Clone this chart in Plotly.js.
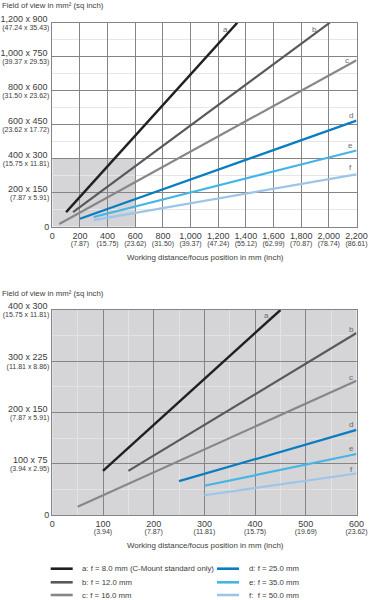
<!DOCTYPE html>
<html>
<head>
<meta charset="utf-8">
<script src="https://cdn.plot.ly/plotly-3.0.1.min.js"></script>
<style>html,body{margin:0;padding:0;background:#fff;}#chart{width:369px;height:600px;}</style>
</head>
<body>
<div id="chart"></div>
<script>
// ---- data ----
const seriesKeys = ['a', 'b', 'c', 'd', 'e', 'f'];
const seriesNames = [
  'a: f = 8.0 mm (C-Mount standard only)',
  'b: f = 12.0 mm',
  'c: f = 16.0 mm',
  'd: f = 25.0 mm',
  'e: f = 35.0 mm',
  'f:  f = 50.0 mm'
];
// top chart (full range)
const topX = [[100, 1338], [150, 2007], [50, 2200], [200, 2200], [300, 2200], [300, 2200]];
const topY = [[86, 1200], [86, 1200], [16, 979], [47, 624], [57, 448], [38.5, 308]];
// bottom chart (close range)
const botX = [[100, 450], [150, 600], [50, 600], [250, 600], [300, 600], [300, 600]];
const botY = [[86, 400], [86, 355], [16, 262], [66, 166], [57, 119], [38.5, 81]];

const topXTicks = [0, 200, 400, 600, 800, 1000, 1200, 1400, 1600, 1800, 2000, 2200];
const topXMain = ['0', '200', '400', '600', '800', '1,000', '1,200', '1,400', '1,600', '1,800', '2,000', '2,200'];
const topXSub = ['', '(7.87)', '(15.75)', '(23.62)', '(31.50)', '(39.37)', '(47.24)', '(55.12)', '(62.99)', '(70.87)', '(78.74)', '(86.61)'];
const topYTicks = [200, 400, 600, 800, 1000, 1200];
const topYMain = ['200 x 150', '400 x 300', '600 x 450', '800 x 600', '1,000 x 750', '1,200 x 900'];
const topYSub = ['(7.87 x 5.91)', '(15.75 x 11.81)', '(23.62 x 17.72)', '(31.50 x 23.62)', '(39.37 x 29.53)', '(47.24 x 35.43)'];

const botXTicks = [0, 100, 200, 300, 400, 500, 600];
const botXMain = ['0', '100', '200', '300', '400', '500', '600'];
const botXSub = ['', '(3.94)', '(7.87)', '(11.81)', '(15.75)', '(19.69)', '(23.62)'];
const botYTicks = [100, 200, 300, 400];
const botYMain = ['100 x 75', '200 x 150', '300 x 225', '400 x 300'];
const botYSub = ['(3.94 x 2.95)', '(7.87 x 5.91)', '(11.81 x 8.86)', '(15.75 x 11.81)'];

const topXRange = [0, 2200];
const topYRange = [0, 1200];
const botXRange = [0, 600];
const botYRange = [0, 400];

const yTitle = 'Field of view in mm² (sq inch)';
const xTitle = 'Working distance/focus position in mm (inch)';

// ---- styles ----
const colors = ['#231f20', '#59595b', '#87878a', '#0a7cc1', '#45b5e5', '#9dc5ea'];
const widths = [2.4, 2.2, 2.2, 2.2, 2.2, 2.2];
const FONT = 'Liberation Sans, Arial, sans-serif';
const TXT = '#3c3c3c';
const GRID = '#858585';
const MINOR_TOP = '#e6e6e6';
const MINOR_BOT = '#e3e3e5';
const SHADE = '#d5d5d7';

// label offsets (pixels) from line end
const topLabelShift = [[-12, 6.6], [-15.6, 6.6], [-10, 0.5], [-6, -5.3], [-5.7, -5], [-5.7, -6.6]];
const botLabelShift = [[-14.3, 5.7], [-5.3, -4], [-5.3, -3.4], [-5.3, -5.7], [-5, -5.7], [-5, -4.3]];

const W = 369, H = 600;
const xDom = [52.3 / W, 356.5 / W];
const topDom = [1 - 226.7 / H, 1 - 22.7 / H];
const botDom = [1 - 515 / H, 1 - 310 / H];

const traces = [];
seriesKeys.forEach((k, i) => {
  traces.push({type: 'scatter', mode: 'lines', x: topX[i], y: topY[i], xaxis: 'x', yaxis: 'y',
    line: {color: colors[i], width: widths[i]}, showlegend: false, hoverinfo: 'skip'});
  traces.push({type: 'scatter', mode: 'lines', x: botX[i], y: botY[i], xaxis: 'x2', yaxis: 'y2',
    line: {color: colors[i], width: widths[i]}, showlegend: false, hoverinfo: 'skip'});
});
// empty traces so that the overlaying label axes are drawn
[['x3', 'y'], ['x', 'y3'], ['x', 'y5'], ['x4', 'y2'], ['x2', 'y4'], ['x2', 'y6']].forEach(p => {
  traces.push({type: 'scatter', mode: 'lines', x: [], y: [], xaxis: p[0], yaxis: p[1], showlegend: false, hoverinfo: 'skip'});
});

const mainFont = {family: FONT, size: 9, color: TXT};
const subFont = {family: FONT, size: 7, color: TXT};

function baseAxis(extra) {
  return Object.assign({ticks: '', ticklen: 0, zeroline: false, fixedrange: true, tickmode: 'array',
    showgrid: false, ticklabeloverflow: 'allow'}, extra);
}

const layout = {
  width: W, height: H,
  margin: {l: 0, r: 0, t: 0, b: 0},
  paper_bgcolor: '#ffffff', plot_bgcolor: 'rgba(0,0,0,0)',
  showlegend: false,
  font: {family: FONT, color: TXT},
  // top chart
  xaxis: baseAxis({domain: xDom, anchor: 'y', range: topXRange, tickvals: topXTicks, ticktext: topXMain,
    tickfont: mainFont, showgrid: true, gridcolor: GRID, gridwidth: 1, showline: true, mirror: true,
    linecolor: GRID, linewidth: 1, ticklabelstandoff: 0}),
  xaxis3: baseAxis({overlaying: 'x', anchor: 'y', range: topXRange, tickvals: topXTicks, ticktext: topXSub,
    tickfont: subFont, ticklabelstandoff: 11}),
  yaxis: baseAxis({domain: topDom, anchor: 'x', range: topYRange, tickvals: topYTicks, ticktext: topYMain,
    tickfont: mainFont, showgrid: true, gridcolor: GRID, gridwidth: 1, showline: true, mirror: true,
    linecolor: GRID, linewidth: 1, ticklabelshift: -4, ticklabelstandoff: 2,
    minor: {tickmode: 'linear', tick0: 0, dtick: 100, showgrid: true, gridcolor: MINOR_TOP, gridwidth: 1, ticks: ''}}),
  yaxis3: baseAxis({overlaying: 'y', anchor: 'x', range: topYRange, tickvals: topYTicks, ticktext: topYSub,
    tickfont: subFont, ticklabelshift: 5, ticklabelstandoff: 2}),
  yaxis5: baseAxis({overlaying: 'y', anchor: 'x', range: topYRange, tickvals: [0], ticktext: ['0'],
    tickfont: mainFont, ticklabelstandoff: 2}),
  // bottom chart
  xaxis2: baseAxis({domain: xDom, anchor: 'y2', range: botXRange, tickvals: botXTicks, ticktext: botXMain,
    tickfont: mainFont, showgrid: true, gridcolor: GRID, gridwidth: 1, showline: true, mirror: true,
    linecolor: GRID, linewidth: 1, ticklabelstandoff: 0,
    minor: {tickmode: 'linear', tick0: 0, dtick: 50, showgrid: true, gridcolor: MINOR_BOT, gridwidth: 1, ticks: ''}}),
  xaxis4: baseAxis({overlaying: 'x2', anchor: 'y2', range: botXRange, tickvals: botXTicks, ticktext: botXSub,
    tickfont: subFont, ticklabelstandoff: 11}),
  yaxis2: baseAxis({domain: botDom, anchor: 'x2', range: botYRange, tickvals: botYTicks, ticktext: botYMain,
    tickfont: mainFont, showgrid: true, gridcolor: GRID, gridwidth: 1, showline: true, mirror: true,
    linecolor: GRID, linewidth: 1, ticklabelshift: -4, ticklabelstandoff: 2,
    minor: {tickmode: 'linear', tick0: 0, dtick: 50, showgrid: true, gridcolor: MINOR_BOT, gridwidth: 1, ticks: ''}}),
  yaxis4: baseAxis({overlaying: 'y2', anchor: 'x2', range: botYRange, tickvals: botYTicks, ticktext: botYSub,
    tickfont: subFont, ticklabelshift: 5, ticklabelstandoff: 2}),
  yaxis6: baseAxis({overlaying: 'y2', anchor: 'x2', range: botYRange, tickvals: [0], ticktext: ['0'],
    tickfont: mainFont, ticklabelstandoff: 2}),
  shapes: [
    // zoomed region highlighted on top chart (= bottom chart's ranges)
    {type: 'rect', xref: 'x', yref: 'y', x0: botXRange[0], x1: botXRange[1], y0: botYRange[0], y1: botYRange[1],
      fillcolor: SHADE, line: {width: 0}, layer: 'below'},
    {type: 'rect', xref: 'x2 domain', yref: 'y2 domain', x0: 0, x1: 1, y0: 0, y1: 1,
      fillcolor: SHADE, line: {width: 0}, layer: 'below'}
  ],
  annotations: [
    {xref: 'paper', yref: 'paper', x: 0, y: 1 - 5.5 / H, xanchor: 'left', yanchor: 'middle', showarrow: false,
      text: yTitle, font: {family: FONT, size: 7.8, color: TXT}},
    {xref: 'paper', yref: 'paper', x: 0, y: 1 - 293.5 / H, xanchor: 'left', yanchor: 'middle', showarrow: false,
      text: yTitle, font: {family: FONT, size: 7.8, color: TXT}},
    {xref: 'paper', yref: 'paper', x: 205 / W, y: 1 - 257 / H, xanchor: 'center', yanchor: 'middle', showarrow: false,
      text: xTitle, font: {family: FONT, size: 7.9, color: TXT}},
    {xref: 'paper', yref: 'paper', x: 205 / W, y: 1 - 545 / H, xanchor: 'center', yanchor: 'middle', showarrow: false,
      text: xTitle, font: {family: FONT, size: 7.9, color: TXT}}
  ]
};

// line end labels
seriesKeys.forEach((k, i) => {
  layout.annotations.push({xref: 'x', yref: 'y', x: topX[i][1], y: topY[i][1], showarrow: false,
    xshift: topLabelShift[i][0], yshift: -topLabelShift[i][1], xanchor: 'center', yanchor: 'middle',
    text: k, font: {family: FONT, size: 8, color: '#6a6a6a'}});
  layout.annotations.push({xref: 'x2', yref: 'y2', x: botX[i][1], y: botY[i][1], showarrow: false,
    xshift: botLabelShift[i][0], yshift: -botLabelShift[i][1], xanchor: 'center', yanchor: 'middle',
    text: k, font: {family: FONT, size: 8, color: '#6a6a6a'}});
});

// legend (two columns of three)
const legLineX = [[50.7, 72.7], [217, 239]];
const legTextX = [80, 246.7];
const legRowY = [568.7, 582.3, 595];
seriesKeys.forEach((k, i) => {
  const col = Math.floor(i / 3), row = i % 3;
  const yp = 1 - legRowY[row] / H;
  layout.shapes.push({type: 'line', xref: 'paper', yref: 'paper', x0: legLineX[col][0] / W, x1: legLineX[col][1] / W,
    y0: yp, y1: yp, line: {color: colors[i], width: 2.6}});
  layout.annotations.push({xref: 'paper', yref: 'paper', x: legTextX[col] / W, y: yp, xanchor: 'left', yanchor: 'middle',
    showarrow: false, text: seriesNames[i], font: {family: FONT, size: 7.8, color: TXT}});
});

Plotly.newPlot('chart', traces, layout, {staticPlot: true, displayModeBar: false});
</script>
</body>
</html>
